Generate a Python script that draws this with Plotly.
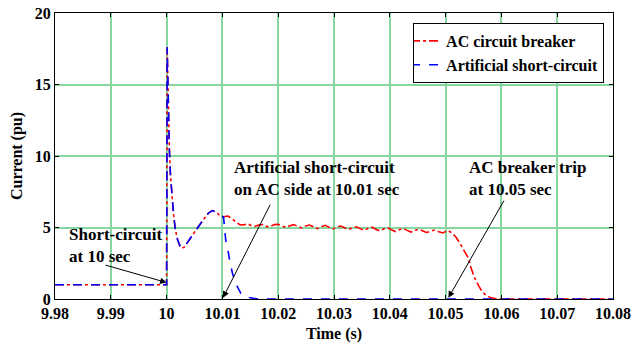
import plotly.graph_objects as go

# ---- data ----
t_breaker = [9.98, 10.0, 10.0001, 10.0003, 10.0005, 10.0007, 10.001, 10.0013, 10.0016, 10.002,
             10.0024, 10.0028, 10.0032, 10.0038, 10.0045, 10.0055, 10.0065, 10.0075, 10.0082, 10.009,
             10.0096, 10.0102, 10.011, 10.0118, 10.0125, 10.0132, 10.014, 10.0146, 10.0152, 10.0158,
             10.0165, 10.0172, 10.0178, 10.0185, 10.0193, 10.02, 10.0207, 10.0214, 10.0221, 10.0228,
             10.0235, 10.0242, 10.0249, 10.0256, 10.0263, 10.027, 10.0277, 10.0284, 10.0291, 10.0298,
             10.0305, 10.0312, 10.0319, 10.0326, 10.0333, 10.034, 10.0347, 10.0354, 10.0361, 10.0368,
             10.0375, 10.0382, 10.0389, 10.0396, 10.0403, 10.041, 10.0417, 10.0424, 10.0431, 10.0438,
             10.0445, 10.0452, 10.0459, 10.0466, 10.0473, 10.048, 10.0488, 10.0495, 10.05, 10.0505,
             10.0512, 10.0518, 10.0524, 10.0533, 10.0541, 10.0545, 10.0551, 10.056, 10.0566, 10.0572,
             10.058, 10.059, 10.06, 10.08]
i_breaker = [1.0, 1.0, 17.6, 13.5, 10.4, 8.6, 6.9, 5.7, 4.8, 4.1,
             3.7, 3.55, 3.65, 4.0, 4.45, 4.95, 5.5, 6.0, 6.18, 6.05,
             5.8, 5.75, 5.8, 5.6, 5.35, 5.18, 5.2, 5.25, 5.12, 5.07,
             5.18, 5.2, 5.08, 5.05, 5.2, 5.22, 5.1, 5.0, 5.12, 5.2,
             5.08, 4.97, 5.1, 5.17, 5.05, 4.92, 5.05, 5.15, 5.02, 4.9,
             5.02, 5.1, 4.98, 4.85, 4.98, 5.05, 4.92, 4.8, 4.95, 5.02,
             4.88, 4.76, 4.9, 4.98, 4.84, 4.72, 4.85, 4.93, 4.8, 4.68,
             4.8, 4.88, 4.76, 4.65, 4.74, 4.82, 4.7, 4.62, 4.72, 4.78,
             4.6, 4.35, 4.0, 3.43, 2.85, 2.26, 1.56, 0.86, 0.5, 0.28,
             0.1, 0.02, 0.0, 0.0]

t_short = [9.98, 10.0, 10.0001, 10.0003, 10.0005, 10.0007, 10.001, 10.0013, 10.0016, 10.002,
           10.0024, 10.0028, 10.0032, 10.0038, 10.0045, 10.0055, 10.0065, 10.0075, 10.0082, 10.009,
           10.0096, 10.0102, 10.0106, 10.0109, 10.0113, 10.0118, 10.0125, 10.0133, 10.014, 10.0148,
           10.016, 10.018, 10.08]
i_short = [1.0, 1.0, 17.6, 13.5, 10.4, 8.6, 6.9, 5.7, 4.8, 4.1,
           3.7, 3.55, 3.65, 4.0, 4.45, 4.95, 5.5, 6.0, 6.18, 6.05,
           5.8, 5.75, 4.1, 3.66, 2.7, 1.8, 1.0, 0.4, 0.2, 0.1,
           0.02, 0.0, 0.0]

x_ticks = [9.98, 9.99, 10.0, 10.01, 10.02, 10.03, 10.04, 10.05, 10.06, 10.07, 10.08]
x_labels = ["9.98", "9.99", "10", "10.01", "10.02", "10.03", "10.04", "10.05", "10.06", "10.07", "10.08"]
y_ticks = [0, 5, 10, 15, 20]

FONT = "Liberation Serif, Times New Roman, serif"
GRID = "#86d6a0"

def b(s):
    return "<b>" + s + "</b>"

fig = go.Figure()
fig.add_trace(go.Scatter(x=t_breaker, y=i_breaker, mode="lines", name=b("AC circuit breaker"),
                         line=dict(color="#ff0000", width=1.6, dash="dashdot")))
fig.add_trace(go.Scatter(x=t_short, y=i_short, mode="lines", name=b("Artificial short-circuit"),
                         line=dict(color="#0000ff", width=1.6, dash="dash")))

# arrows
arrows = [
    (10.0, 1.15, 9.9888, 2.4),
    (10.0101, 0.08, 10.0187, 6.7),
    (10.0505, 0.08, 10.0606, 6.98),
]
for (x, y, ax, ay) in arrows:
    fig.add_annotation(x=x, y=y, ax=ax, ay=ay, xref="x", yref="y", axref="x", ayref="y",
                       text="", showarrow=True, arrowhead=2, arrowsize=1.3, arrowwidth=1,
                       arrowcolor="black")

texts = [
    (9.98215, 3.71, "Short-circuit<br>at 10 sec"),
    (10.01172, 8.44, "Artificial short-circuit<br>on AC side at 10.01 sec"),
    (10.05384, 8.44, "AC breaker trip<br>at 10.05 sec"),
]
for (x, y, s) in texts:
    fig.add_annotation(x=x, y=y, xref="x", yref="y", text=b(s), showarrow=False,
                       xanchor="left", yanchor="middle", align="left",
                       font=dict(family=FONT, size=17, color="black"))

fig.update_layout(
    width=644, height=349,
    margin=dict(l=55, r=31, t=13, b=50, autoexpand=False),
    paper_bgcolor="white", plot_bgcolor="white",
    font=dict(family=FONT, size=16, color="black"),
    showlegend=True,
    legend=dict(x=0.984, y=0.965, xanchor="right", yanchor="top",
                bordercolor="black", borderwidth=1, bgcolor="white",
                font=dict(family=FONT, size=16, color="black"),
                itemwidth=30, tracegroupgap=0, indentation=-8),
)
fig.update_xaxes(range=[9.98, 10.08], tickvals=x_ticks, ticktext=[b(s) for s in x_labels],
                 showgrid=True, gridcolor=GRID, gridwidth=1.5, automargin=False,
                 showline=True, linecolor="black", linewidth=1, mirror="ticks",
                 ticks="inside", ticklen=4, tickcolor="black",
                 zeroline=False,
                 title=dict(text=b("Time (s)"), font=dict(family=FONT, size=16), standoff=6),
                 tickfont=dict(family=FONT, size=16))
fig.update_yaxes(range=[0, 20], tickvals=y_ticks, ticktext=[b(str(v)) for v in y_ticks],
                 showgrid=True, gridcolor=GRID, gridwidth=1.5, automargin=False,
                 showline=True, linecolor="black", linewidth=1, mirror="ticks",
                 ticks="inside", ticklen=4, tickcolor="black",
                 zeroline=False,
                 title=dict(text=b("Current (pu)"), font=dict(family=FONT, size=16), standoff=8),
                 tickfont=dict(family=FONT, size=16))

fig.write_html("out.html", config={"displayModeBar": False},
               post_script="document.body.style.margin='0';")
